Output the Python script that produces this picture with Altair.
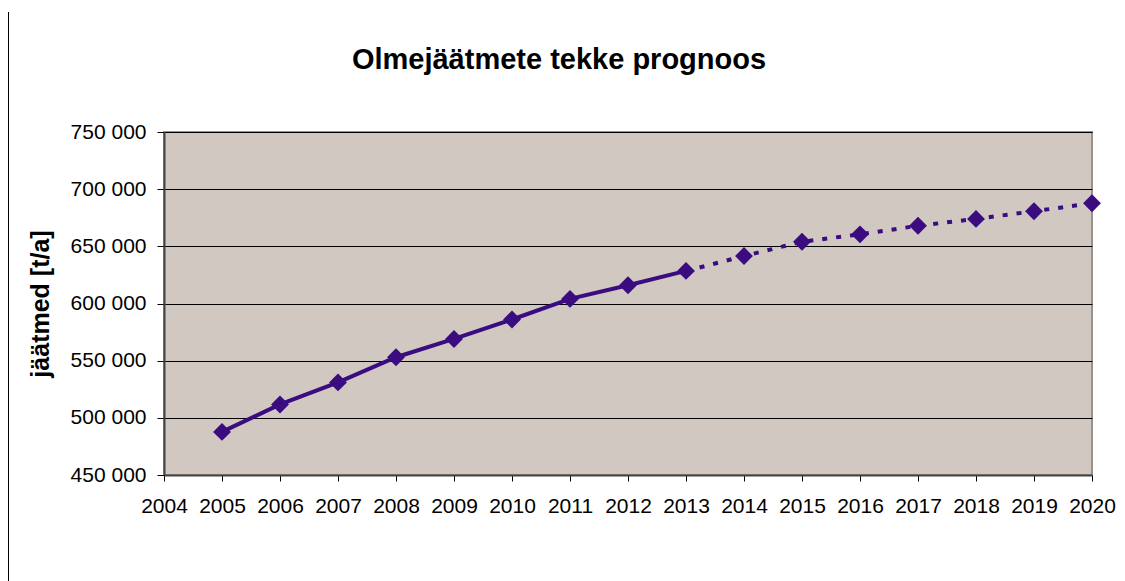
import altair as alt
import pandas as pd

years = [2005, 2006, 2007, 2008, 2009, 2010, 2011, 2012,
         2013, 2014, 2015, 2016, 2017, 2018, 2019, 2020]
values = [487700, 511700, 531000, 553000, 569000, 586000, 604000, 616000,
          628500, 641500, 654000, 660500, 668000, 674000, 680700, 687700]
actual_until = 2013
x_ticks = list(range(2004, 2021))
y_ticks = list(range(450000, 750001, 50000))

df = pd.DataFrame({"aasta": years, "jaatmed": values})
df_actual = df[df["aasta"] <= actual_until]
df_forecast = df[df["aasta"] >= actual_until]

COLOR = "#3a0c80"
FONT = "Liberation Sans"

x_enc = alt.X("aasta:Q",
              scale=alt.Scale(domain=[2004, 2020], nice=False, zero=False),
              axis=alt.Axis(values=x_ticks, format="d", title=None,
                            labelFlush=False, labelOverlap=False, grid=False,
                            tickSize=6, labelPadding=14, labelFontSize=21,
                            labelFont=FONT, labelColor="#000000",
                            domainColor="#444444", domainWidth=2,
                            tickColor="#000000"))
y_enc = alt.Y("jaatmed:Q",
              scale=alt.Scale(domain=[450000, 750000], nice=False, zero=False),
              axis=alt.Axis(values=y_ticks, title="jäätmed [t/a]",
                            labelExpr="replace(format(datum.value, ',d'), ',', ' ')",
                            grid=True, gridColor="#000000", gridWidth=1,
                            tickSize=7, labelPadding=11, labelFontSize=21,
                            labelFont=FONT, labelColor="#000000",
                            domainColor="#444444", domainWidth=2,
                            tickColor="#000000",
                            titleFont=FONT, titleFontSize=25, titleFontWeight="bold",
                            titleColor="#000000", titleAngle=270,
                            titleX=-116, titleY=171.5, titleAlign="center",
                            titleBaseline="alphabetic"))

solid = alt.Chart(df_actual).mark_line(color=COLOR, strokeWidth=4).encode(x=x_enc, y=y_enc)
dashed = alt.Chart(df_forecast).mark_line(color=COLOR, strokeWidth=4,
                                          strokeDash=[5, 9]).encode(x=x_enc, y=y_enc)
points = alt.Chart(df).mark_point(shape="diamond", filled=True, size=320,
                                  color=COLOR, opacity=1).encode(x=x_enc, y=y_enc)

border = alt.Chart(pd.DataFrame({"k": [0]})).mark_rule(color="#000000", strokeWidth=1).encode(
    x=alt.value(-155.5), y=alt.value(-120), y2=alt.value(449))

chart = alt.layer(border, solid, dashed, points).properties(
    width=928, height=343,
    title=alt.TitleParams("Olmejäätmete tekke prognoos", font=FONT, fontSize=29,
                          fontWeight="bold", color="#000000", anchor="middle",
                          frame="group", dx=-69, offset=-86, baseline="alphabetic"),
    autosize=alt.AutoSizeParams(type="none"),
    padding={"left": 156, "top": 124, "right": 25, "bottom": 106},
    background="#ffffff",
).configure_view(
    fill="#d1c8c2", stroke="#9b938b", strokeWidth=2
)

chart.save("out.html", embed_options={"renderer": "svg", "actions": False})
